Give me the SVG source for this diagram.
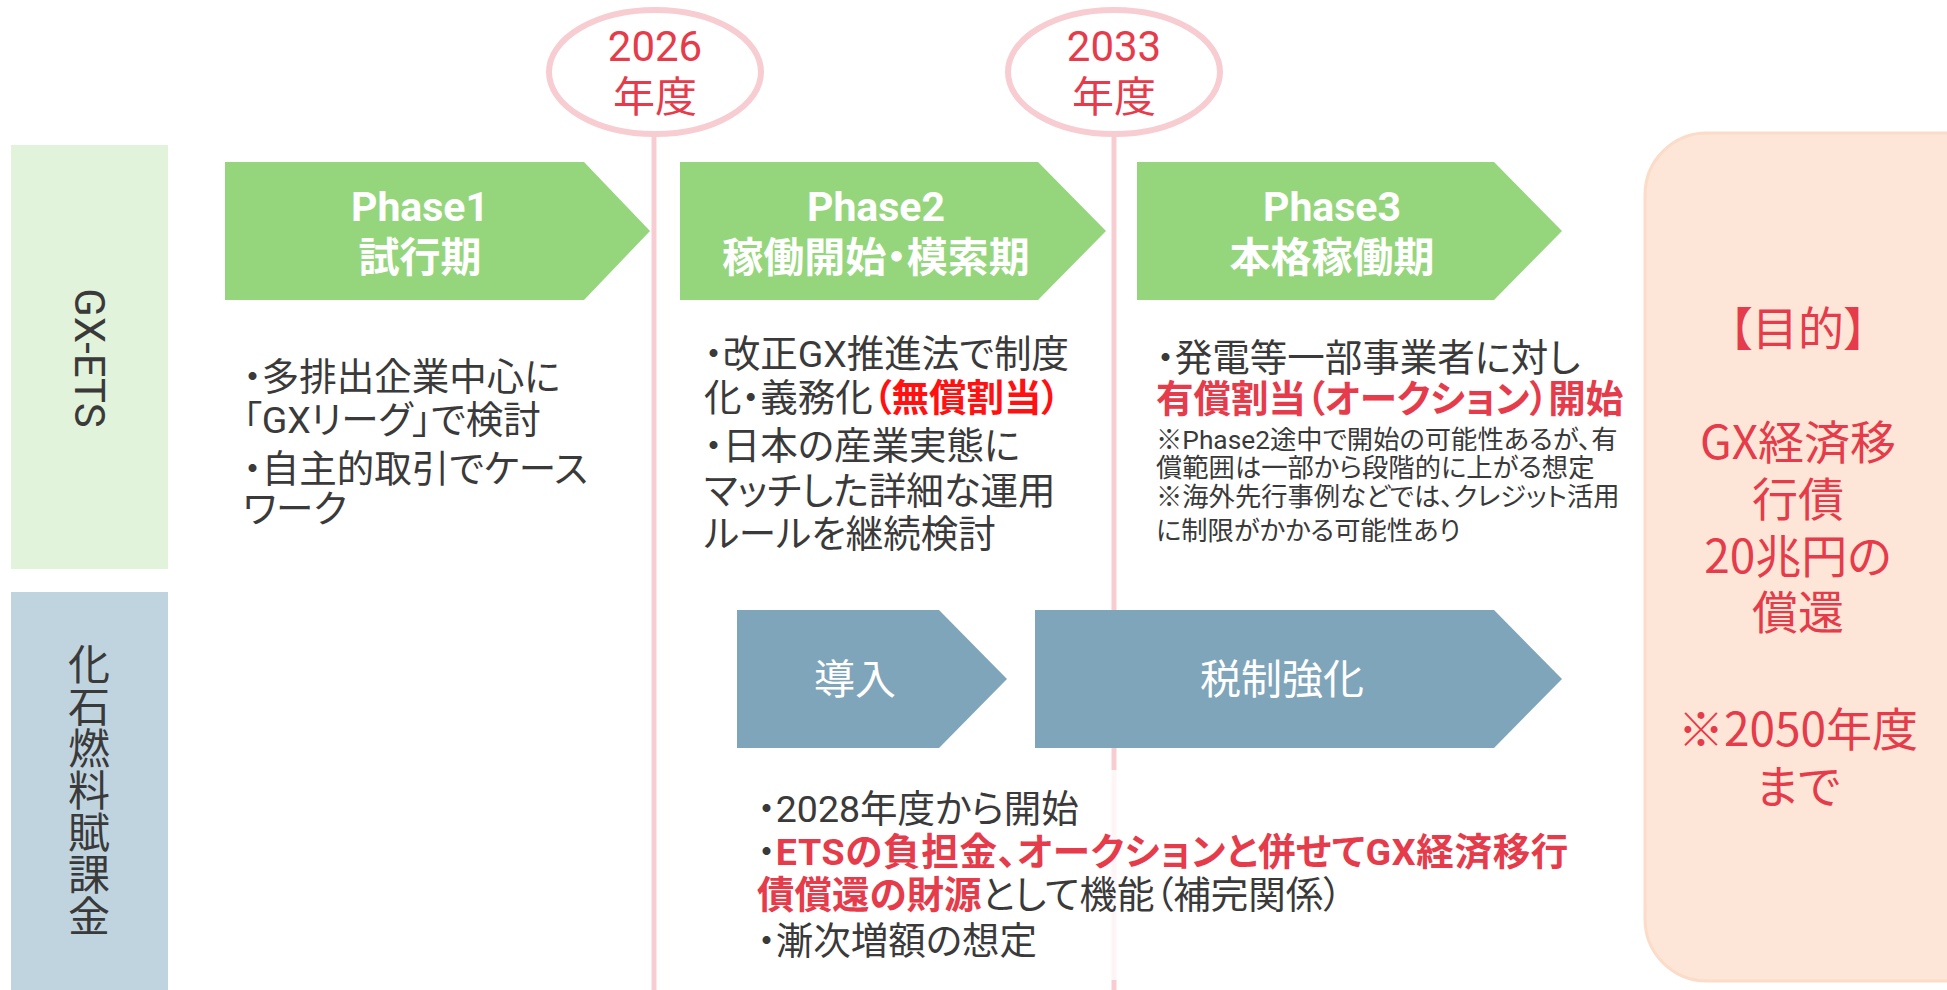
<svg xmlns="http://www.w3.org/2000/svg" width="1947" height="990" viewBox="0 0 1947 990">
<style>
.bg{fill:#ffffff}
.band-g{fill:#e2f3dc}
.band-b{fill:#c0d4e0}
.phase{fill:#95d67c}
.tax{fill:#7fa5ba}
.tl{stroke:#f7cdd1;stroke-width:5;fill:none}
.yr{fill:#ffffff;stroke:#f7cdd1;stroke-width:6}
.goal{fill:#fde6d7;stroke:#fbdcc8;stroke-width:3}
text{font-family:Roboto,"Noto Sans CJK JP",sans-serif;font-feature-settings:"palt"}
.yt{fill:#e63b4a;font-size:42px;text-anchor:middle}
.pt{fill:#ffffff;font-size:41px;font-weight:700;text-anchor:middle}
.bt{fill:#ffffff;font-size:41px;text-anchor:middle}
.lab{fill:#3a3a3a;font-size:42px;text-anchor:middle}
.d{fill:#3a3a3a;font-size:37.5px}
.s{fill:#3a3a3a;font-size:26.3px}
.red{fill:#ff1111;font-weight:700}
.red2{fill:#e63b4a;font-weight:700}
.gt{fill:#e63b4a;font-size:46px;text-anchor:middle;font-family:"Noto Sans CJK JP",sans-serif}
</style>
<rect class="bg" x="0" y="0" width="1947" height="990"/>

<g id="band-gxets">
<rect class="band-g" x="11" y="145" width="157" height="424"/>
<text class="lab" transform="translate(89,358) rotate(90)" dominant-baseline="central">GX-ETS</text>
</g>
<g id="band-fossil">
<rect class="band-b" x="11" y="592" width="157" height="398"/>
<text class="lab"><tspan x="89" y="680">化</tspan><tspan x="89" y="722">石</tspan><tspan x="89" y="764">燃</tspan><tspan x="89" y="806">料</tspan><tspan x="89" y="848">賦</tspan><tspan x="89" y="890">課</tspan><tspan x="89" y="932">金</tspan></text>
</g>

<g id="connectors">
<line class="tl" x1="654" y1="134" x2="654" y2="990"/>
<line class="tl" x1="1114" y1="134" x2="1114" y2="990"/>
</g>

<g id="year-2026">
<ellipse class="yr" cx="655" cy="72" rx="106" ry="62"/>
<text class="yt" x="655" y="61">2026</text>
<text class="yt" x="655" y="112">年度</text>
</g>
<g id="year-2033">
<ellipse class="yr" cx="1114" cy="72" rx="106" ry="62"/>
<text class="yt" x="1114" y="61">2033</text>
<text class="yt" x="1114" y="112">年度</text>
</g>

<g id="phase1">
<polygon class="phase" points="225,162 584,162 650,231 584,300 225,300"/>
<text class="pt" x="420" y="221">Phase1</text>
<text class="pt" x="420" y="272">試行期</text>
</g>
<g id="phase2">
<polygon class="phase" points="680,162 1038,162 1106,231 1038,300 680,300"/>
<text class="pt" x="876" y="221">Phase2</text>
<text class="pt" x="876" y="272">稼働開始・模索期</text>
</g>
<g id="phase3">
<polygon class="phase" points="1137,162 1494,162 1562,231 1494,300 1137,300"/>
<text class="pt" x="1332" y="221">Phase3</text>
<text class="pt" x="1332" y="272">本格稼働期</text>
</g>

<g id="phase1-desc">
<text class="d" x="243" y="390">・多排出企業中心に</text>
<text class="d" x="243" y="433">「GXリーグ」で検討</text>
<text class="d" x="243" y="482">・自主的取引でケース</text>
<text class="d" x="243" y="522">ワーク</text>
</g>
<g id="phase2-desc">
<text class="d" x="704" y="367">・改正GX推進法で制度</text>
<text class="d" x="704" y="411">化・義務化<tspan class="red">（無償割当）</tspan></text>
<text class="d" x="704" y="459">・日本の産業実態に</text>
<text class="d" x="704" y="504">マッチした詳細な運用</text>
<text class="d" x="704" y="547">ルールを継続検討</text>
</g>
<g id="phase3-desc">
<text class="d" x="1156" y="371">・発電等一部事業者に対し</text>
<text class="d red2" x="1156" y="412">有償割当（オークション）開始</text>
<text class="s" x="1156" y="449">※Phase2途中で開始の可能性あるが、有</text>
<text class="s" x="1156" y="477">償範囲は一部から段階的に上がる想定</text>
<text class="s" x="1156" y="506">※海外先行事例などでは、クレジット活用</text>
<text class="s" x="1156" y="540">に制限がかかる可能性あり</text>
</g>

<g id="tax-intro">
<polygon class="tax" points="737,610 939,610 1007,679 939,748 737,748"/>
<text class="bt" x="855" y="694">導入</text>
</g>
<g id="tax-strengthen">
<polygon class="tax" points="1035,610 1494,610 1562,679 1494,748 1035,748"/>
<text class="bt" x="1282" y="694">税制強化</text>
</g>

<g id="tax-desc">
<rect x="745" y="770" width="830" height="210" fill="#ffffff" fill-opacity="0.8"/>
<text class="d" x="757" y="822">・2028年度から開始</text>
<text class="d" x="757" y="865">・<tspan class="red2" letter-spacing="0.7">ETSの負担金、オークションと併せてGX経済移行</tspan></text>
<text class="d" x="757" y="908"><tspan class="red2">債償還の財源</tspan>として機能（補完関係）</text>
<text class="d" x="757" y="954">・漸次増額の想定</text>
</g>

<g id="goal">
<rect class="goal" x="1645" y="133" width="360" height="848" rx="62" ry="62"/>
<text class="gt" x="1798" y="345">【目的】</text>
<text class="gt" x="1798" y="459">GX経済移</text>
<text class="gt" x="1798" y="516">行債</text>
<text class="gt" x="1798" y="573">20兆円の</text>
<text class="gt" x="1798" y="629">償還</text>
<text class="gt" x="1798" y="746">※2050年度</text>
<text class="gt" x="1798" y="803">まで</text>
</g>
</svg>
